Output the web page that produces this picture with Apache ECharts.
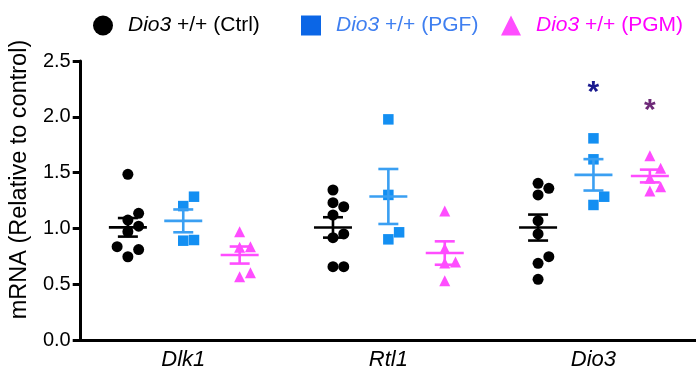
<!DOCTYPE html>
<html>
<head>
<meta charset="utf-8">
<script src="https://cdn.jsdelivr.net/npm/echarts@6/dist/echarts.min.js"></script>
<style>
  html, body { margin: 0; padding: 0; background: #fff; }
  #chart { width: 696px; height: 379px; }
</style>
</head>
<body>
<div id="chart"></div>
<script>
// genes on the x axis
var genes = ['Dlk1', 'Rtl1', 'Dio3'];
var groupNames = ['Dio3 +/+ (Ctrl)', 'Dio3 +/+ (PGF)', 'Dio3 +/+ (PGM)'];

// individual values per gene (Dlk1, Rtl1, Dio3)
var ctrlValues = [
	[1.485, 1.135, 1.075, 1.02, 0.97, 0.836, 0.81, 0.746],
	[1.344, 1.23, 1.194, 1.12, 0.95, 0.917, 0.657, 0.657],
	[1.404, 1.359, 1.30, 1.069, 0.95, 0.747, 0.687, 0.544]
];
var pgfValues = [
	[1.284, 1.20, 0.896, 0.89],
	[1.977, 1.30, 0.965, 0.902],
	[1.807, 1.619, 1.284, 1.21]
];
var pgmValues = [
	[0.97, 0.836, 0.83, 0.603, 0.567],
	[1.156, 0.82, 0.70, 0.69, 0.53],
	[1.651, 1.538, 1.449, 1.374, 1.335]
];
// significance marks per gene
var pgfSig = ['', '', '*'];
var pgmSig = ['', '', '*'];

var yMin = 0, yMax = 2.5, yStep = 0.5;

// layout
var W = 696, H = 379;
var gridLeft = 77, gridRight = -10, gridTop = 61, gridBottom = 39;
var pxPerX = (W - gridLeft - gridRight) / genes.length;
var pxPerY = (H - gridTop - gridBottom) / (yMax - yMin);
var groupOffset = [-0.27, 0, 0.275];
var legendLeft = [88, 296, 496];
var FONT = 'Liberation Sans, Arial, sans-serif';

var groups = [
	{ vals: ctrlValues, symbol: 'circle', size: 11, color: '#000000', line: '#000000', legend: '#000000', text: '#000000' },
	{ vals: pgfValues, symbol: 'rect', size: 10.5, color: '#138ff2', line: '#3a9ff2', legend: '#0b66e6', text: '#3f7ff0' },
	{ vals: pgmValues, symbol: 'triangle', size: 11, color: '#ff4dff', line: '#ff4dff', legend: '#ff4dff', text: '#ff00ff' }
];

// simple beeswarm: spread points that would overlap
function swarm(vals, D, step) {
	var idx = vals.map(function (v, i) { return i; });
	idx.sort(function (a, b) { return vals[a] - vals[b]; });
	var placed = [], offs = [];
	idx.forEach(function (i) {
		var ks = [0, 1, -1, 2, -2, 3, -3];
		for (var j = 0; j < ks.length; j++) {
			var off = ks[j] * step, ok = true;
			for (var p = 0; p < placed.length; p++) {
				var dx = off - placed[p].off;
				var dy = (vals[i] - placed[p].v) * pxPerY;
				if (Math.sqrt(dx * dx + dy * dy) < D) { ok = false; break; }
			}
			if (ok) break;
		}
		placed.push({ off: off, v: vals[i] });
		offs[i] = off / pxPerX;
	});
	return offs;
}

function meanSem(arr) {
	var n = arr.length, m = 0, s = 0;
	arr.forEach(function (v) { m += v; });
	m = m / n;
	arr.forEach(function (v) { s += (v - m) * (v - m); });
	return [m, Math.sqrt(s / (n - 1)) / Math.sqrt(n)];
}

var series = [];
groups.forEach(function (g, gi) {
	var pts = [], stats = [];
	g.vals.forEach(function (arr, ci) {
		var offs = swarm(arr, 11, 11);
		var cx = ci + groupOffset[gi];
		arr.forEach(function (v, k) { pts.push([cx + offs[k], v]); });
		var ms = meanSem(arr);
		stats.push([cx, ms[0], ms[1]]);
	});
	series.push({
		name: groupNames[gi],
		type: 'scatter',
		xAxisIndex: 1,
		symbol: g.symbol,
		symbolSize: g.size,
		itemStyle: { color: g.color, opacity: 1 },
		data: pts,
		z: 2
	});
	series.push({
		name: groupNames[gi] + ' mean',
		type: 'custom',
		xAxisIndex: 1,
		z: 3,
		data: stats,
		renderItem: function (params, api) {
			var c = api.coord([api.value(0), api.value(1)]);
			var t = api.coord([api.value(0), api.value(1) + api.value(2)]);
			var b = api.coord([api.value(0), api.value(1) - api.value(2)]);
			var st = { stroke: g.line, lineWidth: 2.6 };
			return {
				type: 'group',
				children: [
					{ type: 'line', shape: { x1: c[0] - 19, y1: c[1], x2: c[0] + 19, y2: c[1] }, style: st },
					{ type: 'line', shape: { x1: c[0], y1: t[1], x2: c[0], y2: b[1] }, style: st },
					{ type: 'line', shape: { x1: c[0] - 10, y1: t[1], x2: c[0] + 10, y2: t[1] }, style: st },
					{ type: 'line', shape: { x1: c[0] - 10, y1: b[1], x2: c[0] + 10, y2: b[1] }, style: st }
				]
			};
		}
	});
});

// asterisks above the highest point of the group
var starData = [];
[[pgfSig, 1, '#1a1a8f'], [pgmSig, 2, '#6e2a78']].forEach(function (s) {
	s[0].forEach(function (mark, ci) {
		if (!mark) return;
		var top = Math.max.apply(null, groups[s[1]].vals[ci]);
		starData.push([ci + groupOffset[s[1]], top + 0.47, mark, s[2]]);
	});
});
series.push({
	name: 'sig',
	type: 'custom',
	xAxisIndex: 1,
	z: 4,
	data: starData,
	renderItem: function (params, api) {
		var d = starData[params.dataIndex];
		var c = api.coord([d[0], d[1]]);
		return {
			type: 'text',
			x: c[0],
			y: c[1] + 7,
			style: {
				text: d[2], fill: d[3], fontSize: 30, fontWeight: 'bold', fontFamily: FONT,
				align: 'center', verticalAlign: 'middle'
			}
		};
	}
});

// one legend per group so each sits where it does in the figure
var legends = groupNames.map(function (n, i) {
	return {
		top: 10,
		left: legendLeft[i],
		itemWidth: 20,
		itemHeight: 20,
		data: [{ name: n, itemStyle: { color: groups[i].legend } }],
		formatter: function (s) { return '{i|Dio3}' + s.slice(4); },
		textStyle: {
			color: groups[i].text,
			fontSize: 21,
			fontFamily: FONT,
			padding: [0, 0, 0, 10],
			rich: { i: { fontStyle: 'italic', fontSize: 21, fontFamily: FONT } }
		}
	};
});

var chart = echarts.init(document.getElementById('chart'));
var option = {
	animation: false,
	backgroundColor: '#fff',
	textStyle: { fontFamily: FONT },
	legend: legends,
	grid: { left: gridLeft, right: gridRight, top: gridTop, bottom: gridBottom },
	xAxis: [{
		type: 'category',
		data: genes,
		axisLine: { lineStyle: { color: '#000', width: 3 } },
		axisTick: { alignWithLabel: true, length: 8, lineStyle: { color: '#000', width: 3 } },
		axisLabel: { color: '#000', fontSize: 22, fontStyle: 'italic', margin: 9, fontFamily: FONT },
		splitLine: { show: false }
	}, {
		type: 'value',
		min: -0.5,
		max: genes.length - 0.5,
		show: false
	}],
	yAxis: {
		type: 'value',
		min: yMin,
		max: yMax,
		interval: yStep,
		name: 'mRNA (Relative to control)',
		nameLocation: 'middle',
		nameGap: 41,
		nameTextStyle: { color: '#000', fontSize: 23.5, fontFamily: FONT, padding: [0, 0, 0, 42] },
		axisLine: { show: true, onZero: false, lineStyle: { color: '#000', width: 3 } },
		axisTick: { show: true, length: 8, lineStyle: { color: '#000', width: 3 } },
		axisLabel: { color: '#000', fontSize: 20, margin: 10, fontFamily: FONT, formatter: function (v) { return v.toFixed(1); } },
		splitLine: { show: false }
	},
	series: series
};
chart.setOption(option);
</script>
</body>
</html>
